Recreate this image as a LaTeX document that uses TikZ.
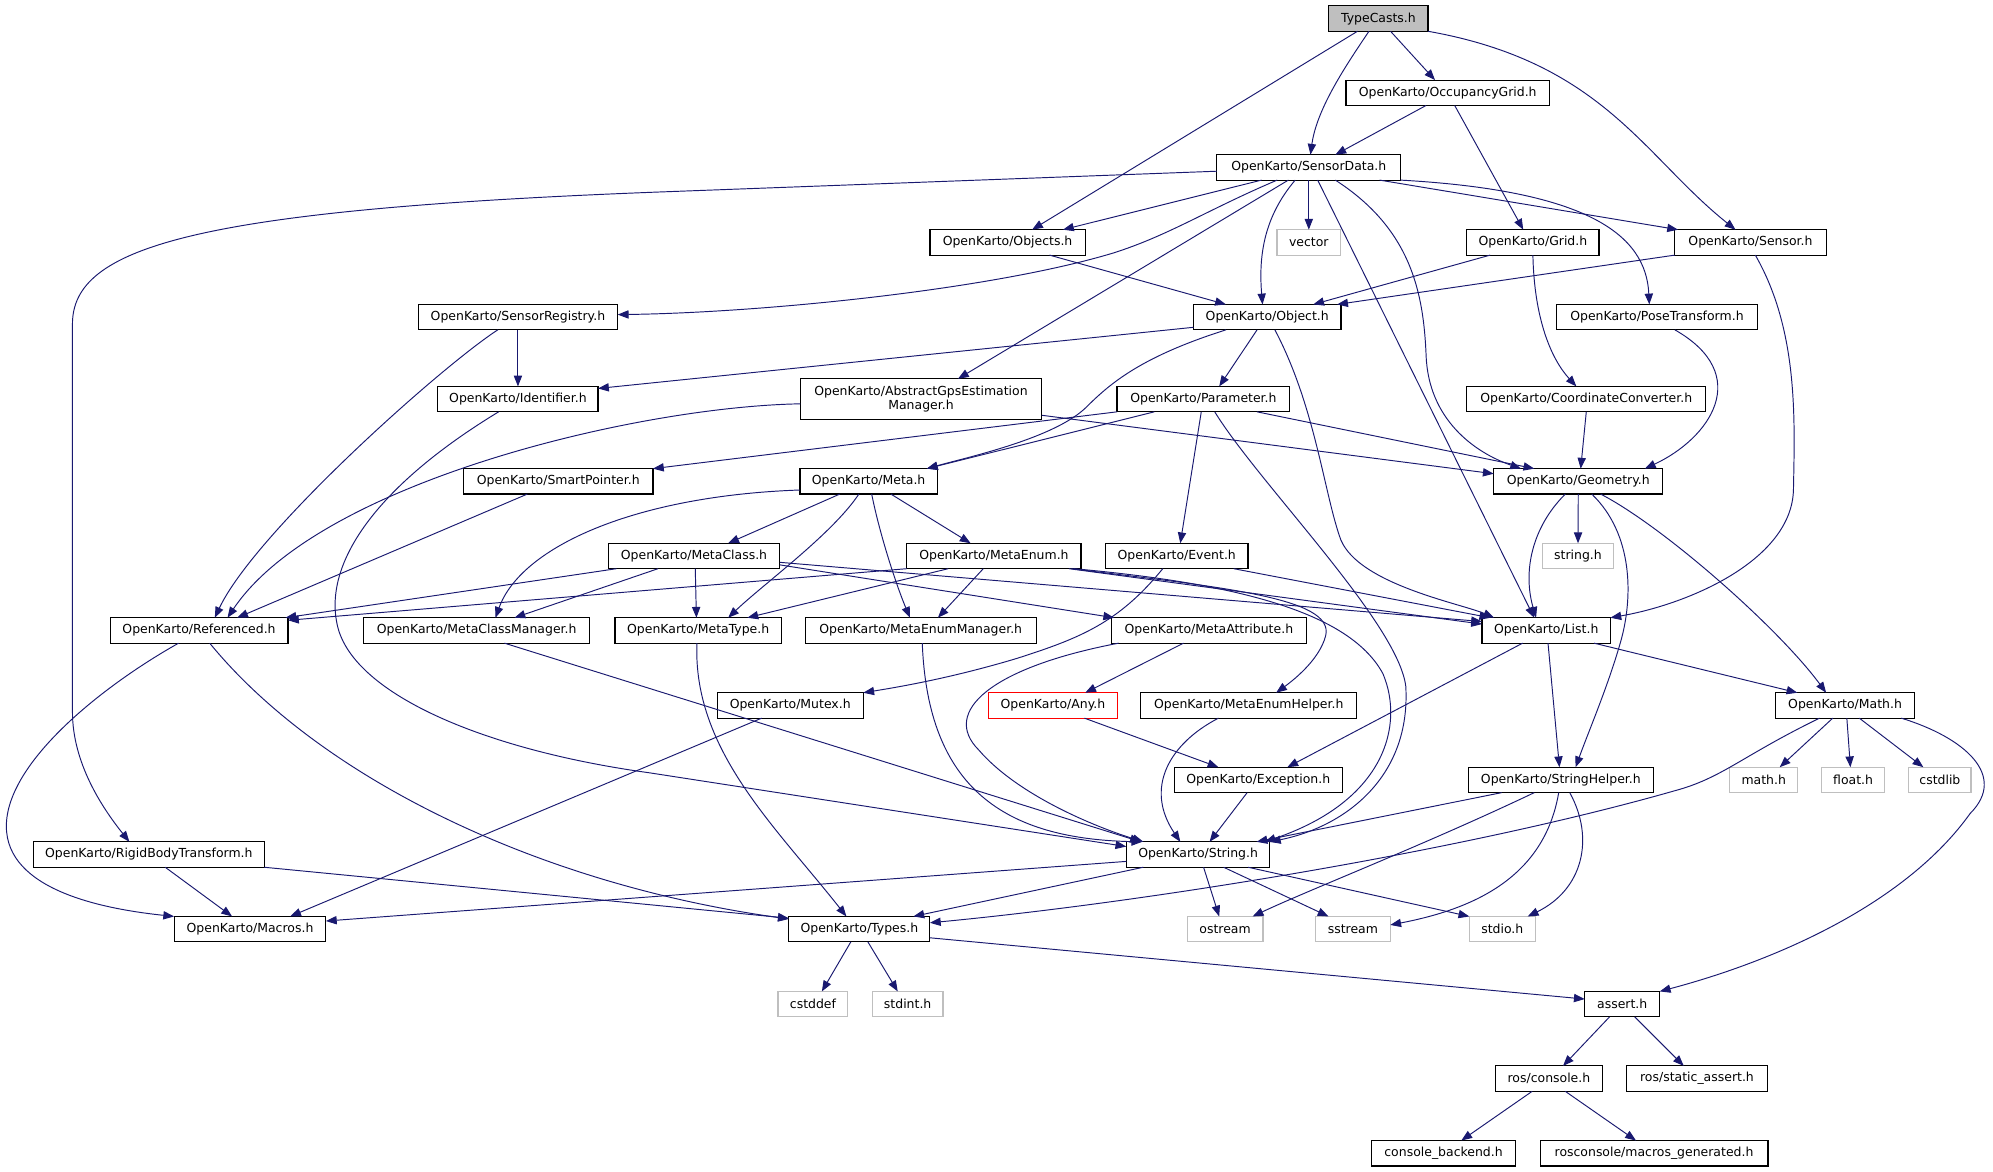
\documentclass[tikz,border=0pt]{standalone}
\usepackage{fontspec}
\setmainfont{DejaVu Sans}
\usetikzlibrary{arrows.meta}
\definecolor{edgec}{HTML}{191970}
\definecolor{greyb}{HTML}{BFBFBF}
\definecolor{tcfill}{HTML}{BFBFBF}
\newcommand\gfont{\fontsize{9.8}{11.1}\selectfont}
\tikzset{
  hdr/.style={draw=black, line width=0.9pt, fill=white, minimum height=20pt, inner sep=0pt, outer sep=0pt, font=\gfont, text=black},
  sys/.style={hdr, draw=greyb},
  root/.style={hdr, fill=tcfill},
  bad/.style={hdr, draw=red},
  e/.style={draw=edgec, line width=0.75pt, -{Triangle[length=8.5pt,width=6.5pt]}, fill=none},
}
\begin{document}
\begin{tikzpicture}[x=1pt,y=-1pt]
\useasboundingbox[fill=white] (0,0) rectangle (1568,922);
% nodes
\node[root, minimum width=78pt] (tc) at (1084.5,14.6) {TypeCasts.h};
\node[hdr, minimum width=160pt] (og) at (1139,73) {OpenKarto/OccupancyGrid.h};
\node[hdr, minimum width=144.6pt] (sd) at (1029.7,131.7) {OpenKarto/SensorData.h};
\node[hdr, minimum width=122pt] (objs) at (792.7,190.7) {OpenKarto/Objects.h};
\node[sys, minimum width=50pt] (vec) at (1029.7,190.7) {vector};
\node[hdr, minimum width=104pt] (grid) at (1206,190.7) {OpenKarto/Grid.h};
\node[hdr, minimum width=119pt] (sensor) at (1377.2,190.7) {OpenKarto/Sensor.h};
\node[hdr, minimum width=157pt] (sreg) at (407.5,249.5) {OpenKarto/SensorRegistry.h};
\node[hdr, minimum width=116pt] (obj) at (997,249.5) {OpenKarto/Object.h};
\node[hdr, minimum width=158pt] (pose) at (1303.6,249.5) {OpenKarto/PoseTransform.h};
\node[hdr, minimum width=126pt] (ident) at (407.5,314) {OpenKarto/Identifier.h};
\node[hdr, minimum width=190pt, minimum height=32pt, align=center] (agps) at (724.6,314) {OpenKarto/AbstractGpsEstimation\\Manager.h};
\node[hdr, minimum width=136pt] (param) at (946.8,314) {OpenKarto/Parameter.h};
\node[hdr, minimum width=188pt] (coord) at (1248,314) {OpenKarto/CoordinateConverter.h};
\node[hdr, minimum width=149pt] (sp) at (439.2,378.7) {OpenKarto/SmartPointer.h};
\node[hdr, minimum width=108pt] (meta) at (683.4,378.7) {OpenKarto/Meta.h};
\node[hdr, minimum width=133pt] (geom) at (1241.7,378.7) {OpenKarto/Geometry.h};
\node[hdr, minimum width=135pt] (mclass) at (546,437.4) {OpenKarto/MetaClass.h};
\node[hdr, minimum width=137pt] (menum) at (782,437.4) {OpenKarto/MetaEnum.h};
\node[hdr, minimum width=112pt] (event) at (925.8,437.4) {OpenKarto/Event.h};
\node[sys, minimum width=56pt] (strh) at (1241.5,437.4) {string.h};
\node[hdr, minimum width=140pt] (ref) at (156.6,496) {OpenKarto/Referenced.h};
\node[hdr, minimum width=178pt] (mcm) at (375,496) {OpenKarto/MetaClassManager.h};
\node[hdr, minimum width=131pt] (mtype) at (549.3,496) {OpenKarto/MetaType.h};
\node[hdr, minimum width=182pt] (mem) at (724.4,496) {OpenKarto/MetaEnumManager.h};
\node[hdr, minimum width=153pt] (mattr) at (951.1,496) {OpenKarto/MetaAttribute.h};
\node[hdr, minimum width=101pt] (list) at (1216.5,496) {OpenKarto/List.h};
\node[hdr, minimum width=115pt] (mutex) at (621.7,555) {OpenKarto/Mutex.h};
\node[bad, minimum width=101pt] (any) at (828.4,555) {OpenKarto/Any.h};
\node[hdr, minimum width=170pt] (meh) at (982.5,555) {OpenKarto/MetaEnumHelper.h};
\node[hdr, minimum width=109pt] (math) at (1451.6,555) {OpenKarto/Math.h};
\node[hdr, minimum width=132pt] (exc) at (989.9,613.6) {OpenKarto/Exception.h};
\node[hdr, minimum width=146pt] (sh) at (1228,613.6) {OpenKarto/StringHelper.h};
\node[sys, minimum width=53.5pt] (mathh) at (1387.6,613.6) {math.h};
\node[sys, minimum width=49.4pt] (floath) at (1457.9,613.6) {float.h};
\node[sys, minimum width=49pt] (cstdlib) at (1526.2,613.6) {cstdlib};
\node[hdr, minimum width=181.6pt] (rbt) at (117.1,672.3) {OpenKarto/RigidBodyTransform.h};
\node[hdr, minimum width=113pt] (str) at (942.6,672.3) {OpenKarto/String.h};
\node[hdr, minimum width=119.4pt] (macros) at (196.7,731) {OpenKarto/Macros.h};
\node[hdr, minimum width=111pt] (types) at (676.1,731) {OpenKarto/Types.h};
\node[sys, minimum width=59.6pt] (ostream) at (963.8,731) {ostream};
\node[sys, minimum width=58.8pt] (sstream) at (1064.4,731) {sstream};
\node[sys, minimum width=51.8pt] (stdio) at (1181.9,731) {stdio.h};
\node[sys, minimum width=55pt] (cstddef) at (639.6,790) {cstddef};
\node[sys, minimum width=55.7pt] (stdint) at (714.1,790) {stdint.h};
\node[hdr, minimum width=59pt] (assert) at (1276.3,790) {assert.h};
\node[hdr, minimum width=84pt] (rcons) at (1218.6,848.6) {ros/console.h};
\node[hdr, minimum width=110.6pt] (rsa) at (1335.1,848.6) {ros/static\_assert.h};
\node[hdr, minimum width=113.5pt] (cb) at (1135.7,907.3) {console\_backend.h};
\node[hdr, minimum width=179.3pt] (rmg) at (1301.3,907.3) {rosconsole/macros\_generated.h};
% edges
\draw[e] ([xshift=-16.5pt]tc.south) -- ([xshift=19.3pt]objs.north);
\draw[e] ([xshift=-7.5pt]tc.south) .. controls (1060,50) and (1036,85) .. ([xshift=1.3pt]sd.north);
\draw[e] ([xshift=9.5pt]tc.south) -- ([xshift=-10pt]og.north);
\draw[e] (tc.south east) .. controls (1261,49) and (1293,123) .. ([xshift=-11.8pt]sensor.north);
\draw[e] ([xshift=-17.1pt]og.south) -- ([xshift=20.9pt]sd.north);
\draw[e] ([xshift=5.5pt]og.south) -- ([xshift=-7.6pt]grid.north);
\draw[e] ([yshift=-3pt]sd.west) -- (520,151) .. controls (150,165) and (57,195) .. (57,255) -- (57,560) .. controls (57,600) and (80,635) .. ([xshift=-15.3pt]rbt.north);
\draw[e] ([xshift=-24.9pt]sd.south) .. controls (950,165) and (920,185) .. (876,199) .. controls (780,228) and (600,246) .. ([yshift=2pt]sreg.east);
\draw[e] ([xshift=-37.2pt]sd.south) -- ([xshift=43.6pt]objs.north);
\draw[e] ([xshift=-16.1pt]sd.south) -- ([xshift=29.1pt]agps.north);
\draw[e] ([xshift=-10.7pt]sd.south) .. controls (995,170) and (990,200) .. ([xshift=-3.7pt]obj.north);
\draw[e] (sd.south) -- (vec.north);
\draw[e] ([xshift=7pt]sd.south) -- ([xshift=-9.5pt]list.north);
\draw[e] ([xshift=20.9pt]sd.south) .. controls (1110,180) and (1120,230) .. (1122,280) .. controls (1124,330) and (1160,356) .. ([xshift=-45pt]geom.north);
\draw[e] ([xshift=55.7pt]sd.south) -- ([xshift=-57pt]sensor.north);
\draw[e] (sd.south east) .. controls (1250,150) and (1295,185) .. ([xshift=-6pt]pose.north);
\draw[e] ([xshift=33pt]objs.south) -- ([xshift=-32.5pt]obj.north);
\draw[e] ([xshift=-33.6pt]grid.south) -- ([xshift=36.2pt]obj.north);
\draw[e] (sensor.south west) -- ([xshift=55pt]obj.north);
\draw[e] (grid.south) .. controls (1207,250) and (1220,282) .. ([xshift=-7.8pt]coord.north);
\draw[e] ([xshift=3.8pt]sensor.south) .. controls (1415,260) and (1412,330) .. (1411,385) .. controls (1410,440) and (1330,475) .. (list.north east);
\draw[e] ([xshift=14.1pt]pose.south) .. controls (1380,295) and (1345,345) .. ([xshift=52.4pt]geom.north);
\draw[e] (coord.south) -- ([xshift=1.9pt]geom.north);
\draw[e] (sreg.south) -- (ident.north);
\draw[e] ([xshift=-15.9pt]sreg.south) .. controls (345,290) and (200,420) .. ([xshift=12.4pt]ref.north);
\draw[e] ([yshift=-8pt]obj.west) -- ([yshift=8.4pt]ident.east);
\draw[e] ([xshift=-32.5pt]obj.south) .. controls (900,280) and (875,300) .. (855,320) .. controls (830,345) and (760,360) .. ([xshift=45.8pt]meta.north);
\draw[e] ([xshift=-8pt]obj.south) -- ([xshift=12.4pt]param.north);
\draw[e] ([xshift=6pt]obj.south) .. controls (1035,320) and (1042,390) .. (1055,425) .. controls (1070,460) and (1150,475) .. ([xshift=-41pt]list.north);
\draw[e] ([xshift=-15.2pt]ident.south) .. controls (300,380) and (255,440) .. (265,490) .. controls (275,545) and (380,590) .. (511,608) -- ([yshift=6.3pt]str.west);
\draw[e] ([yshift=-3.7pt]agps.west) .. controls (500,320) and (250,380) .. ([xshift=22.4pt]ref.north);
\draw[e] ([yshift=-12.7pt]agps.east) -- ([yshift=6pt]geom.west);
\draw[e] (param.south west) -- (sp.north east);
\draw[e] ([xshift=-38.6pt]param.south) -- ([xshift=45.8pt]meta.north);
\draw[e] ([xshift=42.2pt]param.south) -- ([xshift=-34.6pt]geom.north);
\draw[e] ([xshift=-1.7pt]param.south) -- ([xshift=2.8pt]event.north);
\draw[e] ([xshift=8.9pt]param.south) .. controls (990,380) and (1100,490) .. (1106,540) .. controls (1110,610) and (1060,650) .. (str.north east);
\draw[e] ([xshift=-24.3pt]sp.south) -- ([xshift=30pt]ref.north);
\draw[e] ([xshift=-22.7pt]meta.south) -- ([xshift=26.9pt]mclass.north);
\draw[e] ([xshift=17.5pt]meta.south) -- ([xshift=-18.4pt]menum.north);
\draw[e] ([xshift=-7.7pt]meta.south) .. controls (655,420) and (600,460) .. ([xshift=23.6pt]mtype.north);
\draw[e] ([xshift=2.4pt]meta.south) .. controls (692,420) and (705,460) .. ([xshift=-8.5pt]mem.north);
\draw[e] ([yshift=-6.8pt]meta.west) .. controls (500,390) and (410,430) .. ([xshift=14.8pt]mcm.north);
\draw[e] ([xshift=-61pt]mclass.south) -- ([xshift=-2pt]ref.north east);
\draw[e] ([xshift=-28.3pt]mclass.south) -- ([xshift=29.8pt]mcm.north);
\draw[e] ([xshift=1pt]mclass.south) -- ([xshift=-1.4pt]mtype.north);
\draw[e] ([yshift=-7pt]mclass.east) -- ([xshift=-74.5pt]mattr.north);
\draw[e] ([yshift=-5pt]mclass.east) -- ([yshift=7pt]list.west);
\draw[e] (menum.south west) -- ([yshift=-2pt]ref.north east);
\draw[e] ([xshift=-36pt]menum.south) -- ([xshift=38.7pt]mtype.north);
\draw[e] ([xshift=-8.4pt]menum.south) -- ([xshift=13.5pt]mem.north);
\draw[e] ([xshift=59pt]menum.south) -- ([yshift=5pt]list.west);
\draw[e] ([xshift=61pt]menum.south) .. controls (960,462) and (1050,470) .. (1043,500) .. controls (1038,520) and (1015,537) .. ([xshift=21.5pt]meh.north);
\draw[e] ([xshift=63pt]menum.south) .. controls (960,458) and (1060,478) .. (1088,530) .. controls (1105,570) and (1090,630) .. ([xshift=-4pt]str.north east);
\draw[e] ([xshift=-11pt]event.south) .. controls (880,490) and (850,502) .. (800,518) .. controls (750,533) and (710,540) .. (mutex.north east);
\draw[e] ([xshift=44.8pt]event.south) -- ([xshift=-44pt]list.north);
\draw[e] ([xshift=21.9pt]mcm.south) -- ([xshift=-45pt]str.north);
\draw[e] ([xshift=-1pt]mtype.south) .. controls (545,590) and (610,650) .. ([xshift=-10.2pt]types.north);
\draw[e] ([xshift=1.2pt]mem.south) .. controls (730,620) and (790,660) .. ([xshift=-44pt]str.north);
\draw[e] ([xshift=-20pt]mattr.south) -- ([xshift=25.4pt]any.north);
\draw[e] ([xshift=-71pt]mattr.south) .. controls (780,525) and (740,560) .. (770,590) .. controls (800,625) and (860,650) .. ([xshift=-43pt]str.north);
\draw[e] ([xshift=-23.9pt]meh.south) .. controls (920,585) and (900,620) .. ([xshift=-14pt]str.north);
\draw[e] ([xshift=24.8pt]any.south) -- ([xshift=-31.3pt]exc.north);
\draw[e] ([xshift=-18.6pt]list.south) -- ([xshift=22.9pt]exc.north);
\draw[e] ([xshift=-8.7pt]exc.south) -- ([xshift=9pt]str.north);
\draw[e] ([xshift=1.4pt]list.south) -- ([xshift=-1.1pt]sh.north);
\draw[e] ([xshift=37.6pt]list.south) -- ([xshift=-37.5pt]math.north);
\draw[e] ([xshift=-10.2pt]geom.south) .. controls (1205,415) and (1198,450) .. ([xshift=-8pt]list.north);
\draw[e] (geom.south) -- (strh.north);
\draw[e] ([xshift=10.6pt]geom.south) .. controls (1285,420) and (1285,470) .. (1275,505) .. controls (1265,540) and (1250,575) .. ([xshift=11.6pt]sh.north);
\draw[e] ([xshift=17.6pt]geom.south) .. controls (1310,415) and (1400,495) .. ([xshift=-14.9pt]math.north);
\draw[e] ([xshift=-20.1pt]math.south) .. controls (1370,595) and (1355,612) .. (1318,622) .. controls (1150,670) and (900,710) .. ([yshift=5pt]types.east);
\draw[e] ([xshift=-9.7pt]math.south) -- ([xshift=12.6pt]mathh.north);
\draw[e] ([xshift=1.4pt]math.south) -- ([xshift=-2.1pt]floath.north);
\draw[e] ([xshift=11.2pt]math.south) -- ([xshift=-13pt]cstdlib.north);
\draw[e] ([xshift=44.2pt]math.south) .. controls (1545,580) and (1580,610) .. (1550,640) .. controls (1500,710) and (1400,755) .. (assert.north east);
\draw[e] ([xshift=-46.6pt]sh.south) -- ([xshift=46pt]str.north);
\draw[e] ([xshift=-20.9pt]sh.south) .. controls (1120,665) and (1030,700) .. ([xshift=21.7pt]ostream.north);
\draw[e] ([xshift=-1.7pt]sh.south) .. controls (1215,690) and (1160,715) .. ([yshift=3.3pt]sstream.east);
\draw[e] ([xshift=7pt]sh.south) .. controls (1255,660) and (1245,700) .. ([xshift=20pt]stdio.north);
\draw[e] ([yshift=-5.4pt]str.west) -- ([yshift=6.4pt]macros.east);
\draw[e] ([xshift=-43.1pt]str.south) -- ([xshift=42.5pt]types.north);
\draw[e] ([xshift=4.3pt]str.south) -- ([xshift=-4.6pt]ostream.north);
\draw[e] ([xshift=20.1pt]str.south) -- ([xshift=-19.2pt]sstream.north);
\draw[e] ([xshift=39.4pt]str.south) -- (stdio.north west);
\draw[e] ([xshift=-6.7pt]types.south) -- ([xshift=7pt]cstddef.north);
\draw[e] ([xshift=6.7pt]types.south) -- ([xshift=-7.8pt]stdint.north);
\draw[e] ([yshift=-6.8pt]types.east) -- ([yshift=4pt]assert.west);
\draw[e] ([xshift=-16.1pt]ref.south) .. controls (80,540) and (5,600) .. (5,650) .. controls (5,700) and (80,715) .. (macros.north west);
\draw[e] ([xshift=8.4pt]ref.south) .. controls (250,610) and (420,695) .. ([yshift=8pt]types.west);
\draw[e] ([xshift=12.9pt]rbt.south) -- ([xshift=-14.1pt]macros.north);
\draw[e] (rbt.south east) -- ([yshift=8.6pt]types.west);
\draw[e] ([xshift=-22.5pt]mutex.south) -- ([xshift=31.6pt]macros.north);
\draw[e] ([xshift=-10pt]assert.south) -- ([xshift=11.1pt]rcons.north);
\draw[e] ([xshift=9.8pt]assert.south) -- ([xshift=-10.4pt]rsa.north);
\draw[e] ([xshift=-13.2pt]rcons.south) -- ([xshift=14pt]cb.north);
\draw[e] ([xshift=12.9pt]rcons.south) -- ([xshift=-14.2pt]rmg.north);
\end{tikzpicture}
\end{document}
